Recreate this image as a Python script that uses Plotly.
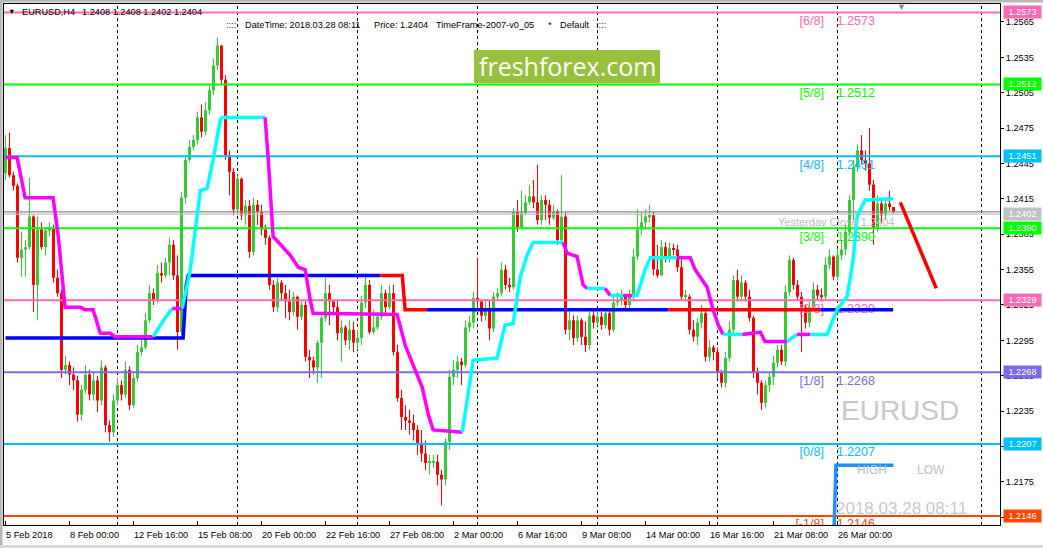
import plotly.graph_objects as go

# ---------------- chart values ----------------
symbol = "EURUSD"
timeframe = "H4"
last_ohlc = [1.2408, 1.2408, 1.2402, 1.2404]
stamp = "2018.03.28 08:11"
price_now = 1.2404
yesterday_close = 1.2404
bid = 1.2402

open_first = 1.2437
close = [
    1.2458, 1.2435, 1.2426, 1.2365, 1.2372, 1.2374, 1.2400, 1.2342, 1.2389, 1.2374,
    1.2388, 1.2390, 1.2348, 1.2335, 1.2270, 1.2274, 1.2266, 1.2261, 1.2232, 1.2253,
    1.2266, 1.2249, 1.2261, 1.2244, 1.2272, 1.2223, 1.2217, 1.2244, 1.2257, 1.2249,
    1.2270, 1.2240, 1.2263, 1.2285, 1.2289, 1.2312, 1.2335, 1.2329, 1.2352, 1.2350,
    1.2361, 1.2376, 1.2350, 1.2302, 1.2416, 1.2448, 1.2459, 1.2465, 1.2484, 1.2472,
    1.2490, 1.2507, 1.2528, 1.2545, 1.2516, 1.2452, 1.2438, 1.2406, 1.2432, 1.2401,
    1.2409, 1.2370, 1.2410, 1.2404, 1.2389, 1.2382, 1.2342, 1.2323, 1.2344, 1.2335,
    1.2328, 1.2319, 1.2332, 1.2315, 1.2325, 1.2281, 1.2278, 1.2272, 1.2293, 1.2314,
    1.2335, 1.2328, 1.2323, 1.2301, 1.2306, 1.2295, 1.2304, 1.2293, 1.2297, 1.2327,
    1.2342, 1.2302, 1.2306, 1.2315, 1.2335, 1.2323, 1.2335, 1.2285, 1.2246, 1.2230,
    1.2227, 1.2225, 1.2219, 1.2208, 1.2199, 1.2191, 1.2191, 1.2192, 1.2181, 1.2177,
    1.2209, 1.2264, 1.2270, 1.2277, 1.2274, 1.2306, 1.2310, 1.2331, 1.2328, 1.2316,
    1.2322, 1.2305, 1.2332, 1.2335, 1.2355, 1.2342, 1.2340, 1.2404, 1.2391, 1.2403,
    1.2412, 1.2417, 1.2412, 1.2397, 1.2414, 1.2410, 1.2399, 1.2404, 1.2380, 1.2400,
    1.2304, 1.2312, 1.2297, 1.2312, 1.2298, 1.2291, 1.2316, 1.2310, 1.2315, 1.2308,
    1.2318, 1.2304, 1.2327, 1.2329, 1.2332, 1.2325, 1.2332, 1.2366, 1.2389, 1.2395,
    1.2400, 1.2401, 1.2355, 1.2350, 1.2374, 1.2366, 1.2373, 1.2372, 1.2357, 1.2332,
    1.2332, 1.2304, 1.2298, 1.2310, 1.2318, 1.2281, 1.2289, 1.2285, 1.2268, 1.2259,
    1.2280, 1.2304, 1.2346, 1.2332, 1.2344, 1.2332, 1.2314, 1.2268, 1.2259, 1.2242,
    1.2257, 1.2264, 1.2276, 1.2287, 1.2277, 1.2336, 1.2363, 1.2342, 1.2332, 1.2323,
    1.2310, 1.2323, 1.2338, 1.2333, 1.2332, 1.2359, 1.2366, 1.2349, 1.2367, 1.2372,
    1.2387, 1.2414, 1.2442, 1.2456, 1.2448, 1.2445, 1.2427, 1.2391, 1.2411, 1.2401,
    1.2411, 1.2408, 1.2404]
high = [
    1.2469, 1.2471, 1.2438, 1.2428, 1.2387, 1.2380, 1.2433, 1.2401, 1.2400, 1.2395,
    1.2390, 1.2395, 1.2393, 1.2355, 1.2338, 1.2282, 1.2277, 1.2272, 1.2265, 1.2257,
    1.2274, 1.2270, 1.2268, 1.2265, 1.2278, 1.2274, 1.2227, 1.2249, 1.2263, 1.2261,
    1.2277, 1.2273, 1.2268, 1.2291, 1.2297, 1.2318, 1.2342, 1.2339, 1.2359, 1.2361,
    1.2365, 1.2382, 1.2380, 1.2367, 1.2421, 1.2452, 1.2465, 1.2469, 1.2489, 1.2495,
    1.2497, 1.2512, 1.2534, 1.2552, 1.2541, 1.2520, 1.2456, 1.2441, 1.2435, 1.2433,
    1.2414, 1.2414, 1.2416, 1.2414, 1.2410, 1.2393, 1.2384, 1.2346, 1.2348, 1.2346,
    1.2342, 1.2338, 1.2336, 1.2333, 1.2329, 1.2329, 1.2287, 1.2281, 1.2295, 1.2319,
    1.2348, 1.2342, 1.2329, 1.2329, 1.2312, 1.2308, 1.2312, 1.2311, 1.2304, 1.2333,
    1.2352, 1.2346, 1.2321, 1.2319, 1.2342, 1.2338, 1.2342, 1.2342, 1.2291, 1.2253,
    1.2240, 1.2236, 1.2232, 1.2223, 1.2219, 1.2210, 1.2198, 1.2198, 1.2198, 1.2185,
    1.2212, 1.2270, 1.2278, 1.2282, 1.2280, 1.2312, 1.2316, 1.2336, 1.2365, 1.2329,
    1.2329, 1.2329, 1.2336, 1.2339, 1.2361, 1.2359, 1.2348, 1.2407, 1.2414, 1.2422,
    1.2418, 1.2427, 1.2431, 1.2444, 1.2418, 1.2418, 1.2414, 1.2410, 1.2406, 1.2435,
    1.2404, 1.2321, 1.2316, 1.2316, 1.2314, 1.2311, 1.2322, 1.2321, 1.2319, 1.2319,
    1.2322, 1.2321, 1.2333, 1.2336, 1.2338, 1.2333, 1.2338, 1.2372, 1.2406, 1.2404,
    1.2406, 1.2410, 1.2404, 1.2376, 1.2380, 1.2378, 1.2378, 1.2377, 1.2376, 1.2365,
    1.2338, 1.2334, 1.2312, 1.2314, 1.2325, 1.2322, 1.2295, 1.2291, 1.2289, 1.2270,
    1.2285, 1.2311, 1.2350, 1.2355, 1.2350, 1.2346, 1.2338, 1.2316, 1.2272, 1.2261,
    1.2261, 1.2268, 1.2282, 1.2291, 1.2291, 1.2342, 1.2367, 1.2365, 1.2346, 1.2336,
    1.2325, 1.2328, 1.2344, 1.2342, 1.2339, 1.2365, 1.2372, 1.2367, 1.2373, 1.2380,
    1.2393, 1.2418, 1.2448, 1.2461, 1.2469, 1.2456, 1.2475, 1.2431, 1.2418, 1.2414,
    1.2416, 1.2422, 1.2408]
low = [
    1.2431, 1.2433, 1.2422, 1.2361, 1.2349, 1.2349, 1.2372, 1.2319, 1.2312, 1.2372,
    1.2367, 1.2383, 1.2344, 1.2332, 1.2263, 1.2266, 1.2257, 1.2253, 1.2226, 1.2227,
    1.2250, 1.2244, 1.2244, 1.2234, 1.2240, 1.2217, 1.2209, 1.2213, 1.2240, 1.2244,
    1.2246, 1.2236, 1.2238, 1.2260, 1.2282, 1.2287, 1.2310, 1.2325, 1.2327, 1.2344,
    1.2348, 1.2350, 1.2346, 1.2287, 1.2300, 1.2411, 1.2446, 1.2456, 1.2461, 1.2467,
    1.2469, 1.2486, 1.2503, 1.2524, 1.2512, 1.2448, 1.2418, 1.2401, 1.2401, 1.2397,
    1.2393, 1.2365, 1.2367, 1.2393, 1.2384, 1.2376, 1.2338, 1.2319, 1.2319, 1.2329,
    1.2314, 1.2312, 1.2316, 1.2304, 1.2312, 1.2277, 1.2263, 1.2266, 1.2259, 1.2263,
    1.2311, 1.2308, 1.2319, 1.2295, 1.2277, 1.2291, 1.2287, 1.2285, 1.2287, 1.2291,
    1.2322, 1.2300, 1.2300, 1.2304, 1.2312, 1.2316, 1.2321, 1.2282, 1.2243, 1.2219,
    1.2219, 1.2215, 1.2210, 1.2198, 1.2192, 1.2185, 1.2181, 1.2187, 1.2172, 1.2155,
    1.2172, 1.2202, 1.2257, 1.2263, 1.2257, 1.2272, 1.2302, 1.2305, 1.2322, 1.2311,
    1.2312, 1.2295, 1.2302, 1.2329, 1.2333, 1.2338, 1.2336, 1.2338, 1.2387, 1.2389,
    1.2401, 1.2410, 1.2407, 1.2393, 1.2393, 1.2397, 1.2393, 1.2397, 1.2376, 1.2378,
    1.2300, 1.2295, 1.2291, 1.2294, 1.2291, 1.2285, 1.2287, 1.2305, 1.2307, 1.2304,
    1.2305, 1.2299, 1.2302, 1.2324, 1.2325, 1.2321, 1.2322, 1.2329, 1.2363, 1.2384,
    1.2389, 1.2395, 1.2350, 1.2348, 1.2355, 1.2361, 1.2361, 1.2367, 1.2353, 1.2329,
    1.2328, 1.2300, 1.2294, 1.2291, 1.2305, 1.2277, 1.2277, 1.2278, 1.2263, 1.2255,
    1.2255, 1.2277, 1.2300, 1.2328, 1.2329, 1.2328, 1.2311, 1.2263, 1.2249, 1.2236,
    1.2238, 1.2251, 1.2257, 1.2272, 1.2274, 1.2273, 1.2333, 1.2338, 1.2329, 1.2285,
    1.2305, 1.2306, 1.2321, 1.2329, 1.2328, 1.2329, 1.2355, 1.2346, 1.2346, 1.2363,
    1.2367, 1.2383, 1.2397, 1.2438, 1.2444, 1.2439, 1.2422, 1.2376, 1.2387, 1.2395,
    1.2397, 1.2405, 1.2402]

# time axis
tick_idx = [0, 16, 32, 48, 64, 80, 96, 112, 128, 144, 160, 176, 192, 208]
tick_text = ["5 Feb 2018", "8 Feb 00:00", "12 Feb 16:00", "15 Feb 08:00", "20 Feb 00:00",
             "22 Feb 16:00", "27 Feb 08:00", "2 Mar 00:00", "6 Mar 16:00", "9 Mar 08:00",
             "14 Mar 00:00", "16 Mar 16:00", "21 Mar 08:00", "26 Mar 00:00"]
grid_idx = [28, 58, 88, 118, 148, 178, 208, 244]
y_ticks = [1.2565, 1.2535, 1.2505, 1.2475, 1.2445, 1.2415, 1.2385, 1.2355,
           1.2325, 1.2295, 1.2265, 1.2235, 1.2205, 1.2175, 1.2145]

# Murrey levels
level_names = ["[6/8]", "[5/8]", "[4/8]", "[3/8]", "[2/8]", "[1/8]", "[0/8]", "[-1/8]"]
level_values = [1.2573, 1.2512, 1.2451, 1.2390, 1.2329, 1.2268, 1.2207, 1.2146]
level_colors = ["#ff69b4", "#00ff00", "#00bfff", "#00ff00", "#ff69b4", "#7b68ee", "#00bfff", "#ff4500"]

# stepped trend line (magenta = down, cyan = up)
tl_x = [0, 2.9, 4.9, 11.9, 13.2, 14.9, 18.7, 19.9, 21.9, 23.7, 26.2, 27.4, 36.9, 39.9, 41.7,
        44.2, 46.2, 48.7, 50.4, 51.9, 53.7, 54.2, 64.9, 65.7, 66.9, 68.7, 71.2, 73.2, 74.9,
        76.2, 76.9, 97.9, 99.9, 102.4, 104.2, 105.7, 106.9, 114.2, 115.7, 116.9, 122.9,
        124.9, 126.9, 128.7, 130.4, 131.9, 139.4, 140.4, 142.9, 144.4, 145.4, 149.9, 151.2,
        154.4, 156.7, 157.9, 159.9, 161.2, 167.9, 171.2, 172.4, 175.4, 176.9, 178.2, 179.4,
        184.2, 188.7, 189.9, 195.4, 197.9, 201.2, 205.4, 207.9, 210.4, 211.9, 212.9, 214.9, 221.9]
tl_y = [1.2450, 1.2450, 1.2416, 1.2416, 1.2383, 1.2323, 1.2323, 1.2321, 1.2321, 1.2301, 1.2301,
        1.2298, 1.2298, 1.2314, 1.2322, 1.2322, 1.2355, 1.2422, 1.2424, 1.2448, 1.2482, 1.2484,
        1.2484, 1.2448, 1.2383, 1.2376, 1.2367, 1.2357, 1.2355, 1.2329, 1.2318, 1.2317, 1.2291,
        1.2270, 1.2255, 1.2232, 1.2219, 1.2217, 1.2249, 1.2278, 1.2280, 1.2308, 1.2309, 1.2349,
        1.2367, 1.2378, 1.2378, 1.2369, 1.2366, 1.2342, 1.2339, 1.2339, 1.2333, 1.2333, 1.2333,
        1.2333, 1.2355, 1.2365, 1.2365, 1.2365, 1.2355, 1.2340, 1.2321, 1.2308, 1.2300, 1.2300,
        1.2302, 1.2294, 1.2294, 1.2300, 1.2300, 1.2300, 1.2321, 1.2332, 1.2363, 1.2400, 1.2414, 1.2415]
tl_c = list("mmmmmmmmmmmm" + "cc" + "m" + "ccccccc" + "mmmmmmmmmmmmmmm" + "ccccccccc" +
            "mmmm" + "c" + "m" + "c" + "m" + "cccc" + "mmmmmm" + "c" + "mmm" + "c" + "m" +
            "ccccccc" + "c")

# blue / red step line
bl_x = [0, 44.4, 45.2, 45.7, 93.7, 99.2, 99.9, 105.4, 165.7, 203.7, 221.9]
bl_y = [1.2297, 1.2297, 1.2342, 1.2350, 1.2350, 1.2350, 1.2321, 1.2321, 1.2321, 1.2321, 1.2321]
bl_c = list("bbbbrrrbrbb")

# high/low indicator line and forecast line
hl_x = [207.1, 207.6, 222.0]
hl_y = [1.2130, 1.2189, 1.2189]
fc_x = [223.7, 232.7]
fc_y = [1.2412, 1.2339]

# ---------------- build ----------------
BULL = "#32cd32"
BEAR = "#ff0000"
FONT = "Liberation Sans, Arial, sans-serif"
UI = 9.2

L, R, T, B = 4, 43, 4, 23
W, H = 1043, 548
PW, PH = W - L - R, H - T - B
XR = [-0.375, 248.625]
YR = [1.21384, 1.25802]
PX_PER_PRICE = PH / (YR[1] - YR[0])

n = min(len(close), len(high), len(low))
opens = [open_first] + close[:n - 1]
fig = go.Figure()

for want_bull, col in [(True, BULL), (False, BEAR)]:
    bx, bbase, bh, wx, wy = [], [], [], [], []
    for i in range(n):
        o, c = opens[i], close[i]
        h = max(high[i], o, c)
        l = min(low[i], o, c)
        if (c >= o) != want_bull:
            continue
        bx.append(i)
        bbase.append(min(o, c))
        bh.append(max(abs(c - o), 0.00009))
        wx += [i, i, None]
        wy += [l, h, None]
    fig.add_trace(go.Bar(x=bx, y=bh, base=bbase, width=0.75, marker=dict(color=col, line=dict(width=0)),
                         hoverinfo="skip", showlegend=False))
    fig.add_trace(go.Scatter(x=wx, y=wy, mode="lines", line=dict(color=col, width=1),
                             hoverinfo="skip", showlegend=False))

# level lines
for v, col in zip(level_values, level_colors):
    fig.add_trace(go.Scatter(x=[XR[0] - 2, XR[1] + 2], y=[v, v], mode="lines",
                             line=dict(color=col, width=2), hoverinfo="skip", showlegend=False))
# yesterday close & bid lines
fig.add_trace(go.Scatter(x=[XR[0] - 2, XR[1] + 2], y=[yesterday_close] * 2, mode="lines",
                         line=dict(color="#8c8c8c", width=1.3), hoverinfo="skip", showlegend=False))
fig.add_trace(go.Scatter(x=[XR[0] - 2, XR[1] + 2], y=[bid] * 2, mode="lines",
                         line=dict(color="#c0c0c0", width=1.3), hoverinfo="skip", showlegend=False))

# level text (clipped to plot area), placed a few pixels below each line
drop = 3.0 / PX_PER_PRICE
fig.add_trace(go.Scatter(x=[204.6] * len(level_values), y=[v - drop for v in level_values], mode="text",
                         text=level_names, textposition="bottom left",
                         textfont=dict(family=FONT, size=12.5, color=level_colors),
                         hoverinfo="skip", showlegend=False, cliponaxis=True))
fig.add_trace(go.Scatter(x=[207.8] * len(level_values), y=[v - drop for v in level_values], mode="text",
                         text=["%.4f" % v for v in level_values], textposition="bottom right",
                         textfont=dict(family=FONT, size=12.5, color=level_colors),
                         hoverinfo="skip", showlegend=False, cliponaxis=True))


def segments(xs, ys, cs):
    out = []
    start = 0
    for k in range(1, len(xs)):
        if k == len(xs) - 1 or cs[k] != cs[start]:
            out.append((cs[start], xs[start:k + 1], ys[start:k + 1]))
            start = k
    return out


for key, sx, sy in segments(bl_x, bl_y, bl_c):
    fig.add_trace(go.Scatter(x=sx, y=sy, mode="lines",
                             line=dict(color="#0000ff" if key == "b" else "#ff0000", width=3.5),
                             hoverinfo="skip", showlegend=False))
for key, sx, sy in segments(tl_x, tl_y, tl_c):
    fig.add_trace(go.Scatter(x=sx, y=sy, mode="lines",
                             line=dict(color="#ff00ff" if key == "m" else "#00ffff", width=3.5),
                             hoverinfo="skip", showlegend=False))

fig.add_trace(go.Scatter(x=hl_x, y=hl_y, mode="lines", line=dict(color="#1e90ff", width=3.5),
                         hoverinfo="skip", showlegend=False))
fig.add_trace(go.Scatter(x=fc_x, y=fc_y, mode="lines", line=dict(color="#ff0000", width=3.5),
                         hoverinfo="skip", showlegend=False))


# ---------------- layout ----------------
def PX(px):
    return (px - L) / PW


def PY(py):
    return (H - B - py) / PH


shapes = []
for g in grid_idx:
    shapes.append(dict(type="line", xref="x", yref="paper", x0=g, x1=g, y0=0, y1=1,
                       line=dict(color="black", width=1, dash="3px,3px"), layer="below"))
# window frame
shapes.append(dict(type="rect", xref="paper", yref="paper", x0=PX(0), x1=PX(W), y0=PY(2.5), y1=PY(0),
                   fillcolor="#b8b8b8", line=dict(width=0)))
shapes.append(dict(type="rect", xref="paper", yref="paper", x0=PX(0), x1=PX(2.5), y0=PY(H), y1=PY(0),
                   fillcolor="#b8b8b8", line=dict(width=0)))
shapes.append(dict(type="rect", xref="paper", yref="paper", x0=PX(0), x1=PX(W), y0=PY(H), y1=PY(545),
                   fillcolor="#d8d8d8", line=dict(width=0)))
# freshforex badge
shapes.append(dict(type="rect", xref="paper", yref="paper", x0=PX(474), x1=PX(660), y0=PY(83), y1=PY(50),
                   fillcolor="#97c13c", line=dict(width=0), layer="above"))

ann = []


def txt(px, py, s, size=UI, color="black", anchor="left", family=FONT):
    ann.append(dict(x=PX(px), y=PY(py), xref="paper", yref="paper", text=s, showarrow=False,
                    xanchor=anchor, yanchor="middle", font=dict(family=family, size=size, color=color)))


txt(11.5, 11, "▼", size=7.5, anchor="center")
txt(20, 12, "%s,%s" % (symbol, timeframe))
txt(80, 12, " ".join("%.4f" % v for v in last_ohlc))
txt(224, 25, "::::", color="#600060")
txt(243, 25, "DateTime: %s" % stamp)
txt(372, 25, "Price: %.4f" % price_now)
txt(434, 25, "TimeFrame-2007-v0_05")
txt(546, 25, "*")
txt(558, 25, "Default")
txt(594, 25, "::::", color="#600060")
txt(901, 7, "▼", size=9, color="#8a8a8a", anchor="center")
txt(567, 66, "freshforex.com", size=25, color="white", anchor="center", family="Open Sans, sans-serif")
txt(776, 222, "Yesterday Close %.4f" % yesterday_close, size=11, color="#bdbdbd")
txt(839, 410, symbol, size=28, color="#c8c8c8")
txt(855, 470, "HIGH", size=12, color="#bebebe")
txt(915, 470, "LOW", size=12, color="#bebebe")
txt(834, 508, stamp, size=17, color="#c8c8c8")

# x-axis labels (left-aligned at their bar, like the terminal)
for ti, tt in zip(tick_idx, tick_text):
    ann.append(dict(x=ti, y=0, xref="x", yref="paper", text=tt, showarrow=False, xanchor="left",
                    yanchor="top", xshift=-2, yshift=-3, font=dict(family=FONT, size=UI, color="black")))

# price boxes on the right axis
box_vals = level_values + [bid]
box_cols = level_colors + ["#c0c0c0"]
for v, col in zip(box_vals, box_cols):
    ann.append(dict(x=1, y=v, xref="paper", yref="y", text="%.4f" % v, showarrow=False,
                    xanchor="left", yanchor="middle", xshift=3, width=37, height=12, borderpad=0,
                    bgcolor=col, align="center", font=dict(family=FONT, size=UI, color="white")))

fig.update_layout(
    width=W, height=H, margin=dict(l=L, r=R, t=T, b=B),
    paper_bgcolor="white", plot_bgcolor="white", showlegend=False, barmode="overlay",
    hovermode=False, font=dict(family=FONT, size=UI, color="black"),
    shapes=shapes, annotations=ann,
    xaxis=dict(range=XR, showgrid=False, zeroline=False, showline=True, mirror=True,
               linecolor="black", linewidth=1, tickvals=tick_idx, ticks="inside", ticklen=4,
               tickcolor="black", showticklabels=False, fixedrange=True),
    yaxis=dict(range=YR, side="right", showgrid=False, zeroline=False, showline=True, mirror=True,
               linecolor="black", linewidth=1, tickvals=y_ticks, ticktext=["%.4f" % v for v in y_ticks],
               ticks="outside", ticklen=3, tickcolor="black",
               tickfont=dict(family=FONT, size=UI, color="black"), fixedrange=True),
)

fig.write_html("out.html", config={"displayModeBar": False},
               post_script="document.body.style.margin='0';document.body.style.overflow='hidden';")
